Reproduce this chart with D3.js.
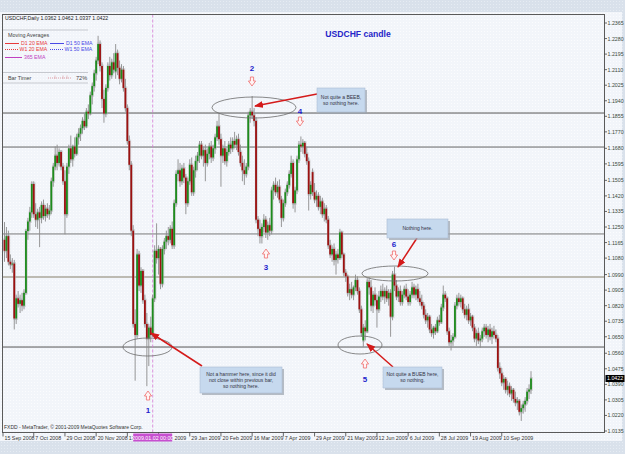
<!DOCTYPE html>
<html><head><meta charset="utf-8">
<script src="https://cdn.jsdelivr.net/npm/d3@7"></script>
<style>body{margin:0;background:#dce4ee}svg{display:block}text{font-family:"Liberation Sans",Arial,sans-serif}</style>
</head><body><svg id="c" width="625" height="454"></svg>
<script>
const open=[
1.1180,1.1120,1.1200,1.1060,1.1045,1.1050,1.0750,1.0860,1.0830,1.0850,
1.0820,1.0890,1.1228,1.1280,1.1330,1.1485,1.1320,1.1290,1.1330,1.1300,
1.1370,1.1310,1.1350,1.1320,1.1340,1.1500,1.1580,1.1640,1.1600,1.1660,
1.1580,1.1500,1.1320,1.1580,1.1680,1.1620,1.1690,1.1650,1.1740,1.1760,
1.1790,1.1830,1.1800,1.1880,1.1870,1.1970,1.2020,1.2090,1.2160,1.2250,
1.2130,1.1950,1.1870,1.2010,1.2130,1.2080,1.2150,1.2100,1.2200,1.2120,
1.2060,1.2110,1.2010,1.1900,1.1720,1.1590,1.1230,1.0720,1.0660,1.1100,
1.0930,1.1010,1.0850,1.0720,1.0640,1.0700,1.0660,1.0860,1.1120,1.1080,
1.1130,1.0940,1.1130,1.1170,1.1200,1.1180,1.1240,1.1150,1.1380,1.1540,
1.1560,1.1500,1.1570,1.1520,1.1380,1.1500,1.1590,1.1440,1.1560,1.1610,
1.1640,1.1700,1.1640,1.1670,1.1600,1.1650,1.1690,1.1630,1.1680,1.1740,
1.1800,1.1730,1.1640,1.1680,1.1610,1.1660,1.1700,1.1680,1.1720,1.1700,
1.1730,1.1660,1.1600,1.1560,1.1540,1.1580,1.1860,1.1880,1.1860,1.1830,
1.1290,1.1240,1.1200,1.1250,1.1290,1.1220,1.1260,1.1230,1.1450,1.1480,
1.1440,1.1470,1.1400,1.1300,1.1380,1.1440,1.1480,1.1540,1.1600,1.1380,
1.1450,1.1620,1.1700,1.1690,1.1710,1.1650,1.1610,1.1430,1.1550,1.1440,
1.1400,1.1420,1.1360,1.1390,1.1320,1.1350,1.1290,1.1150,1.1100,1.1130,
1.1070,1.1100,1.1080,1.1220,1.1100,1.1000,1.0980,1.0890,1.0910,1.0880,
1.0920,1.0960,1.0900,1.0800,1.0630,1.0700,1.0680,1.0950,1.0920,1.0820,
1.0880,1.0850,1.0800,1.0870,1.0900,1.0870,1.0900,1.0860,1.0890,1.0760,
1.0990,1.0930,1.0870,1.0900,1.0840,1.0880,1.0910,1.0870,1.0840,1.0880,
1.0920,1.0880,1.0910,1.0860,1.0840,1.0820,1.0770,1.0740,1.0760,1.0690,
1.0670,1.0700,1.0680,1.0740,1.0730,1.0810,1.0880,1.0860,1.0680,1.0620,
1.0630,1.0650,1.0820,1.0860,1.0840,1.0860,1.0800,1.0770,1.0800,1.0740,
1.0760,1.0700,1.0640,1.0670,1.0630,1.0640,1.0680,1.0700,1.0660,1.0690,
1.0650,1.0680,1.0660,1.0640,1.0480,1.0450,1.0400,1.0420,1.0360,1.0380,
1.0340,1.0360,1.0310,1.0290,1.0300,1.0240,1.0260,1.0280,1.0300,1.0350,
1.0362];
const high=[
1.1277,1.1250,1.1230,1.1100,1.1080,1.1070,1.0880,1.0900,1.0880,1.0890,
1.0910,1.1240,1.1300,1.1360,1.1500,1.1500,1.1380,1.1350,1.1360,1.1390,
1.1400,1.1370,1.1380,1.1370,1.1520,1.1600,1.1690,1.1700,1.1680,1.1670,
1.1600,1.1560,1.1600,1.1700,1.1750,1.1700,1.1740,1.1760,1.1790,1.1810,
1.1850,1.1870,1.1900,1.1920,1.1990,1.2040,1.2110,1.2180,1.2295,1.2270,
1.2150,1.2000,1.2030,1.2150,1.2180,1.2170,1.2200,1.2250,1.2220,1.2160,
1.2140,1.2130,1.2060,1.1920,1.1750,1.1610,1.1260,1.0800,1.1130,1.1120,
1.1030,1.1020,1.0880,1.0780,1.0720,1.0760,1.0880,1.1150,1.1270,1.1150,
1.1140,1.1150,1.1190,1.1230,1.1250,1.1260,1.1280,1.1400,1.1560,1.1620,
1.1600,1.1590,1.1600,1.1540,1.1520,1.1620,1.1630,1.1580,1.1640,1.1660,
1.1720,1.1720,1.1690,1.1700,1.1680,1.1710,1.1720,1.1700,1.1760,1.1830,
1.1870,1.1760,1.1700,1.1720,1.1680,1.1720,1.1740,1.1740,1.1770,1.1750,
1.1760,1.1700,1.1640,1.1620,1.1600,1.1880,1.1900,1.1966,1.1900,1.1850,
1.1310,1.1290,1.1270,1.1320,1.1310,1.1280,1.1300,1.1470,1.1500,1.1520,
1.1500,1.1510,1.1420,1.1400,1.1460,1.1500,1.1560,1.1640,1.1620,1.1470,
1.1640,1.1720,1.1745,1.1730,1.1720,1.1690,1.1630,1.1500,1.1570,1.1490,
1.1450,1.1440,1.1420,1.1410,1.1380,1.1370,1.1310,1.1180,1.1150,1.1160,
1.1120,1.1130,1.1240,1.1230,1.1110,1.1020,1.0990,1.0940,1.0950,1.0930,
1.0990,1.0980,1.0920,1.0820,1.0720,1.0740,1.0970,1.0975,1.0960,1.0900,
1.0920,1.0880,1.0900,1.0930,1.0940,1.0920,1.0930,1.0910,1.0910,1.1010,
1.1033,1.0960,1.0920,1.0930,1.0900,1.0930,1.0940,1.0910,1.0900,1.0950,
1.0940,1.0930,1.0940,1.0900,1.0880,1.0840,1.0800,1.0780,1.0770,1.0720,
1.0710,1.0720,1.0760,1.0770,1.0830,1.0930,1.0900,1.0870,1.0700,1.0660,
1.0670,1.0840,1.0880,1.0890,1.0880,1.0870,1.0830,1.0820,1.0830,1.0780,
1.0770,1.0720,1.0690,1.0700,1.0660,1.0700,1.0720,1.0720,1.0710,1.0720,
1.0700,1.0710,1.0690,1.0660,1.0510,1.0480,1.0440,1.0430,1.0410,1.0400,
1.0380,1.0370,1.0350,1.0320,1.0310,1.0280,1.0300,1.0320,1.0370,1.0390,
1.0462];
const low=[
1.1060,1.1080,1.1040,1.1020,1.1000,1.0690,1.0720,1.0810,1.0780,1.0790,
1.0800,1.0880,1.1180,1.1230,1.1300,1.1300,1.1250,1.1240,1.1140,1.1270,
1.1290,1.1280,1.1300,1.1290,1.1320,1.1470,1.1560,1.1560,1.1580,1.1560,
1.1480,1.1210,1.1300,1.1540,1.1600,1.1580,1.1630,1.1640,1.1700,1.1720,
1.1760,1.1780,1.1790,1.1840,1.1860,1.1920,1.1990,1.2050,1.2140,1.2100,
1.1900,1.1820,1.1850,1.1990,1.2050,1.2060,1.2090,1.2060,1.2080,1.2030,
1.2040,1.1990,1.1880,1.1700,1.1560,1.1200,1.0700,1.0410,1.0640,1.0900,
1.0890,1.0830,1.0700,1.0380,1.0490,1.0620,1.0650,1.0840,1.1050,1.0990,
1.0910,1.0920,1.1100,1.1130,1.1150,1.1160,1.1130,1.1130,1.1360,1.1500,
1.1470,1.1480,1.1490,1.1320,1.1360,1.1480,1.1420,1.1420,1.1520,1.1560,
1.1600,1.1620,1.1580,1.1500,1.1580,1.1620,1.1600,1.1610,1.1650,1.1720,
1.1700,1.1470,1.1600,1.1590,1.1580,1.1640,1.1650,1.1660,1.1680,1.1670,
1.1640,1.1580,1.1500,1.1480,1.1520,1.1560,1.1820,1.1840,1.1800,1.1270,
1.1200,1.1160,1.1160,1.1220,1.1190,1.1180,1.1200,1.1210,1.1400,1.1420,
1.1410,1.1380,1.1250,1.1280,1.1360,1.1420,1.1460,1.1520,1.1350,1.1330,
1.1430,1.1600,1.1660,1.1650,1.1630,1.1590,1.1340,1.1400,1.1420,1.1380,
1.1360,1.1340,1.1320,1.1300,1.1280,1.1270,1.1130,1.1080,1.1060,1.1040,
1.0990,1.1050,1.1070,1.1080,1.0980,1.0950,1.0870,1.0850,1.0860,1.0850,
1.0900,1.0880,1.0780,1.0650,1.0595,1.0630,1.0670,1.0880,1.0790,1.0780,
1.0820,1.0700,1.0780,1.0840,1.0850,1.0830,1.0840,1.0820,1.0650,1.0740,
1.0900,1.0850,1.0840,1.0820,1.0820,1.0860,1.0850,1.0820,1.0820,1.0860,
1.0860,1.0850,1.0840,1.0820,1.0800,1.0750,1.0720,1.0700,1.0670,1.0650,
1.0640,1.0660,1.0670,1.0710,1.0720,1.0790,1.0840,1.0660,1.0600,1.0575,
1.0600,1.0640,1.0800,1.0820,1.0810,1.0780,1.0750,1.0740,1.0720,1.0710,
1.0680,1.0620,1.0600,1.0610,1.0590,1.0620,1.0650,1.0640,1.0620,1.0630,
1.0610,1.0640,1.0620,1.0460,1.0420,1.0380,1.0360,1.0340,1.0330,1.0320,
1.0300,1.0290,1.0270,1.0250,1.0220,1.0190,1.0230,1.0240,1.0280,1.0310,
1.0337];
const close=[
1.1120,1.1200,1.1060,1.1045,1.1050,1.0750,1.0860,1.0830,1.0850,1.0820,
1.0890,1.1228,1.1280,1.1330,1.1485,1.1320,1.1290,1.1330,1.1300,1.1370,
1.1310,1.1350,1.1320,1.1340,1.1500,1.1580,1.1640,1.1600,1.1660,1.1580,
1.1500,1.1320,1.1580,1.1680,1.1620,1.1690,1.1650,1.1740,1.1760,1.1790,
1.1830,1.1800,1.1880,1.1870,1.1970,1.2020,1.2090,1.2160,1.2250,1.2130,
1.1950,1.1870,1.2010,1.2130,1.2080,1.2150,1.2110,1.2200,1.2120,1.2060,
1.2110,1.2010,1.1900,1.1720,1.1590,1.1230,1.0720,1.0660,1.1100,1.0930,
1.1010,1.0850,1.0720,1.0640,1.0700,1.0660,1.0860,1.1120,1.1080,1.1130,
1.0940,1.1130,1.1170,1.1200,1.1180,1.1240,1.1150,1.1380,1.1540,1.1560,
1.1500,1.1570,1.1520,1.1380,1.1500,1.1590,1.1440,1.1560,1.1610,1.1640,
1.1700,1.1640,1.1670,1.1600,1.1650,1.1690,1.1630,1.1680,1.1740,1.1800,
1.1730,1.1640,1.1680,1.1610,1.1660,1.1700,1.1680,1.1720,1.1700,1.1730,
1.1660,1.1600,1.1560,1.1540,1.1580,1.1860,1.1880,1.1860,1.1830,1.1290,
1.1240,1.1200,1.1250,1.1290,1.1220,1.1260,1.1230,1.1450,1.1480,1.1440,
1.1470,1.1400,1.1300,1.1380,1.1440,1.1480,1.1540,1.1600,1.1380,1.1450,
1.1620,1.1700,1.1690,1.1710,1.1650,1.1610,1.1430,1.1480,1.1440,1.1400,
1.1420,1.1360,1.1390,1.1320,1.1350,1.1290,1.1150,1.1100,1.1130,1.1070,
1.1100,1.1080,1.1220,1.1100,1.1000,1.0980,1.0890,1.0910,1.0880,1.0920,
1.0960,1.0900,1.0800,1.0670,1.0700,1.0680,1.0950,1.0920,1.0820,1.0880,
1.0850,1.0800,1.0870,1.0900,1.0870,1.0900,1.0860,1.0890,1.0760,1.0990,
1.0930,1.0870,1.0900,1.0840,1.0880,1.0910,1.0870,1.0840,1.0880,1.0920,
1.0880,1.0910,1.0860,1.0840,1.0820,1.0770,1.0740,1.0760,1.0690,1.0670,
1.0700,1.0680,1.0740,1.0730,1.0810,1.0880,1.0860,1.0680,1.0620,1.0630,
1.0650,1.0820,1.0860,1.0840,1.0860,1.0800,1.0770,1.0800,1.0740,1.0760,
1.0700,1.0640,1.0670,1.0630,1.0640,1.0680,1.0700,1.0660,1.0690,1.0650,
1.0680,1.0660,1.0640,1.0480,1.0450,1.0400,1.0420,1.0360,1.0380,1.0340,
1.0360,1.0310,1.0290,1.0300,1.0240,1.0260,1.0280,1.0300,1.0350,1.0362,
1.0422];
const yTickLabels=["1.2365","1.2280","1.2195","1.2110","1.2025","1.1940","1.1855","1.1770","1.1680","1.1595","1.1505","1.1420","1.1335","1.1250","1.1165","1.1080","1.0990","1.0905","1.0820","1.0735","1.0650","1.0560","1.0475","1.0390","1.0305","1.0220","1.0135"];
const xTickIndex=[-1,15,31,47,63,79,95,111,127,143,159,175,191,207,223,239,255];
const xTickLabels=["15 Sep 2008","7 Oct 2008","29 Oct 2008","20 Nov 2008","12 Dec 2008","7 Jan 2009","29 Jan 2009","20 Feb 2009","16 Mar 2009","7 Apr 2009","29 Apr 2009","21 May 2009","12 Jun 2009","6 Jul 2009","28 Jul 2009","19 Aug 2009","10 Sep 2009"];
const levels=[1.1873,1.1687,1.1212,1.0977,1.0594];
const levelColors=["#555","#666","#7a7a7a","#aaa69a","#555"];
const levelWidths=[1,1,1,1.6,1];
const lastPrice=1.0422;
const cursorBar=76, cursorLabel="2009.01.02 00:00";

const svg=d3.select("#c");
const defs=svg.append("defs");
function dots(id,bg,dot){const p=defs.append("pattern").attr("id",id).attr("width",3).attr("height",3).attr("patternUnits","userSpaceOnUse");
 p.append("rect").attr("width",3).attr("height",3).attr("fill",bg);p.append("rect").attr("x",1).attr("y",1).attr("width",1).attr("height",1).attr("fill",dot);}
dots("po","#d9e1eb","#e6ecf3");dots("pp","#f2f5fa","#fbfcfe");
const mk=defs.append("marker").attr("id","ar").attr("markerUnits","userSpaceOnUse").attr("markerWidth",9).attr("markerHeight",7).attr("refX",8).attr("refY",3.5).attr("orient","auto");
mk.append("path").attr("d","M0,0L9,3.5L0,7Z").attr("fill","#d41a1a");

svg.append("rect").attr("width",625).attr("height",454).attr("fill","url(#po)");
svg.append("rect").attr("x",0).attr("y",12).attr("width",622).attr("height",429).attr("fill","url(#pp)");

const x=d3.scaleLinear().domain([0,270]).range([4.5,531]);
const y=d3.scaleLinear().domain([1.0135,1.2365]).range([431,23]);
const L=2.5,R=604.5,T=14.5,B=432.5;

// level lines
svg.append("g").selectAll("line").data(levels).join("line")
 .attr("x1",L).attr("x2",R).attr("y1",d=>y(d)).attr("y2",d=>y(d))
 .attr("stroke",(d,i)=>levelColors[i]).attr("stroke-width",(d,i)=>levelWidths[i]);
// cursor line
svg.append("line").attr("x1",x(cursorBar)).attr("x2",x(cursorBar)).attr("y1",T).attr("y2",B)
 .attr("stroke","#d67ad6").attr("stroke-width",0.8).attr("stroke-dasharray","3,2");

// candles
const idx=d3.range(open.length);
const cg=svg.append("g");
cg.selectAll(".h").data(idx).join("rect")
 .attr("x",i=>x(i)-1.2).attr("width",3)
 .attr("y",i=>y(Math.max(open[i],close[i]))-1.5)
 .attr("height",i=>Math.abs(y(open[i])-y(close[i]))+3)
 .attr("fill","#b5b5b5").attr("opacity",0.5);
cg.selectAll(".w").data(idx).join("line")
 .attr("x1",i=>x(i)).attr("x2",i=>x(i)).attr("y1",i=>y(high[i])).attr("y2",i=>y(low[i]))
 .attr("stroke","#8c8c8c").attr("stroke-width",0.9);
cg.selectAll(".b").data(idx).join("rect")
 .attr("x",i=>x(i)-0.9).attr("width",1.8)
 .attr("y",i=>y(Math.max(open[i],close[i])))
 .attr("height",i=>Math.max(0.6,Math.abs(y(open[i])-y(close[i]))))
 .attr("fill",i=>close[i]>=open[i]?"#1d8c1d":"#9c1111");

// frame
svg.append("rect").attr("x",L).attr("y",T).attr("width",R-L).attr("height",B-T).attr("fill","none").attr("stroke","#5a5a5a").attr("stroke-width",1);

// y axis
const ya=svg.append("g");
yTickLabels.forEach(s=>{const v=+s;
 ya.append("line").attr("x1",R).attr("x2",R+2.5).attr("y1",y(v)).attr("y2",y(v)).attr("stroke","#444").attr("stroke-width",0.8);
 ya.append("text").attr("x",R+3).attr("y",y(v)+2).attr("font-size",5.3).attr("fill","#3a4a3a").text(s);});
ya.append("rect").attr("x",R+1).attr("y",y(lastPrice)-3.5).attr("width",19).attr("height",7).attr("fill","#000");
ya.append("text").attr("x",R+2.5).attr("y",y(lastPrice)+2).attr("font-size",5.3).attr("fill","#fff").text(lastPrice.toFixed(4));

// x axis (labels under the cursor box are hidden behind it, as in MetaTrader)
const cbL=x(cursorBar)-19.5, cbR=x(cursorBar)+19.5;
const cp=defs.append("clipPath").attr("id","xclip");
cp.append("rect").attr("x",0).attr("y",B).attr("width",cbL).attr("height",12);
cp.append("rect").attr("x",cbR).attr("y",B).attr("width",625-cbR).attr("height",12);
const xa=svg.append("g");
const xl=xa.append("g").attr("clip-path","url(#xclip)");
xTickIndex.forEach((k,j)=>{const px=Math.max(L+0.5,x(k));
 xa.append("line").attr("x1",px).attr("x2",px).attr("y1",B).attr("y2",B+4).attr("stroke","#444").attr("stroke-width",0.8);
 xl.append("text").attr("x",px+1.5).attr("y",B+7.5).attr("font-size",5.3).attr("fill","#333").text(xTickLabels[j]);});
xa.append("rect").attr("x",cbL).attr("y",B+1).attr("width",cbR-cbL).attr("height",8).attr("fill","#c74fd0");
xa.append("text").attr("x",x(cursorBar)).attr("y",B+7.3).attr("text-anchor","middle").attr("font-size",5.3).attr("fill","#fff").text(cursorLabel);

// header / legend
const lg=svg.append("g");
lg.append("text").attr("x",5).attr("y",20).attr("font-size",5.2).attr("fill","#222").text("USDCHF,Daily  1.0362 1.0462 1.0337 1.0422");
[30,72.5,83].forEach(v=>lg.append("line").attr("x1",3).attr("x2",88).attr("y1",v).attr("y2",v).attr("stroke","#c6c9cf").attr("stroke-width",1));
lg.append("text").attr("x",8).attr("y",37).attr("font-size",5.4).attr("fill","#444").text("Moving Averages");
const leg=[{x1:5,x2:19,yy:43.5,c:"#e83a3a",d:null,t:"D1 20 EMA",tx:21},{x1:50,x2:64,yy:43.5,c:"#4a4ae6",d:null,t:"D1 50 EMA",tx:66},
 {x1:5,x2:18,yy:49.5,c:"#e83a3a",d:"1,1",t:"W1 20 EMA",tx:19.5},{x1:50,x2:63,yy:49.5,c:"#4a4ae6",d:"1,1",t:"W1 50 EMA",tx:64.5},
 {x1:5,x2:22,yy:57.5,c:"#c040c0",d:null,t:"365 EMA",tx:24}];
leg.forEach(o=>{lg.append("line").attr("x1",o.x1).attr("x2",o.x2).attr("y1",o.yy).attr("y2",o.yy).attr("stroke",o.c).attr("stroke-width",1).attr("stroke-dasharray",o.d);
 lg.append("text").attr("x",o.tx).attr("y",o.yy+1.8).attr("font-size",5.2).attr("fill",o.c).text(o.t);});
lg.append("text").attr("x",8).attr("y",79.5).attr("font-size",5.4).attr("fill","#444").text("Bar Timer");
lg.append("line").attr("x1",48).attr("x2",72).attr("y1",78).attr("y2",78).attr("stroke","#e0a0a8").attr("stroke-dasharray","1,1");
[55,63,67].forEach(v=>lg.append("line").attr("x1",v).attr("x2",v).attr("y1",75.5).attr("y2",79).attr("stroke","#d79aa3").attr("stroke-width",0.6));
lg.append("text").attr("x",76).attr("y",79.5).attr("font-size",5.6).attr("fill","#444").text("72%");
svg.append("text").attr("x",4).attr("y",429).attr("font-size",5).attr("fill","#333").text("FXDD - MetaTrader, \u00a9 2001-2009 MetaQuotes Software Corp.");

// title
svg.append("text").attr("x",358).attr("y",37).attr("text-anchor","middle").attr("font-size",8.6).attr("font-weight","bold").attr("fill","#2525c8").text("USDCHF candle");

// annotations
const an=svg.append("g");
const ell=[[147.5,347,24.5,9],[254,107.5,42,10.5],[360,345,22,9],[395,273.5,33,7.5]];
ell.forEach(e=>an.append("ellipse").attr("cx",e[0]).attr("cy",e[1]).attr("rx",e[2]).attr("ry",e[3]).attr("fill","none").attr("stroke","#6b6b6b").attr("stroke-width",0.8));
const arrows=[[202,366,151,333],[317,94,255,106],[393,367,367,344],[417,238,398,267]];
arrows.forEach(a=>an.append("line").attr("x1",a[0]).attr("y1",a[1]).attr("x2",a[2]).attr("y2",a[3]).attr("stroke","#d41a1a").attr("stroke-width",1.5).attr("marker-end","url(#ar)"));
const boxes=[{x:200,y:367,w:82,h:26,t:["Not a hammer here, since it did","not close within previous bar,","so nothing here."]},
 {x:317,y:88,w:48,h:24,t:["Not quite a BEEB,","so nothing here."]},
 {x:387,y:219,w:61,h:19,t:["Nothing here."]},
 {x:383,y:367,w:59,h:21,t:["Not quite a BUEB here,","so nothing."]}];
boxes.forEach(b=>{an.append("rect").attr("x",b.x+2).attr("y",b.y+2).attr("width",b.w).attr("height",b.h).attr("fill","#9aa3ad").attr("opacity",0.7);
 an.append("rect").attr("x",b.x).attr("y",b.y).attr("width",b.w).attr("height",b.h).attr("fill","#c6d9ee").attr("stroke","#aabdd4").attr("stroke-width",0.6);
 const n=b.t.length;b.t.forEach((s,k)=>an.append("text").attr("x",b.x+b.w/2).attr("y",b.y+b.h/2+1.8+(k-(n-1)/2)*6).attr("text-anchor","middle").attr("font-size",5).attr("fill","#334").text(s));});
function hollow(cx,top,down){const pts=[[-1.6,0],[1.6,0],[1.6,4],[3.6,4],[0,9],[-3.6,4],[-1.6,4]].map(p=>[cx+p[0],down?top+p[1]:top+9-p[1]]);
 an.append("path").attr("d","M"+pts.map(p=>p.join(",")).join("L")+"Z").attr("fill","#fff4f4").attr("stroke","#ef6b6b").attr("stroke-width",0.8);}
const marks=[{n:"1",x:148,a:391,t:413,down:false},{n:"2",x:252,a:77,t:71,down:true},{n:"3",x:266,a:249,t:270,down:false},
 {n:"4",x:300,a:117,t:114,down:true},{n:"5",x:365,a:359,t:382,down:false},{n:"6",x:394,a:251,t:247,down:true}];
marks.forEach(m=>{hollow(m.x,m.a,m.down);an.append("text").attr("x",m.x).attr("y",m.t).attr("text-anchor","middle").attr("font-size",8).attr("font-weight","bold").attr("fill","#1c1ccc").text(m.n);});
</script></body></html>
